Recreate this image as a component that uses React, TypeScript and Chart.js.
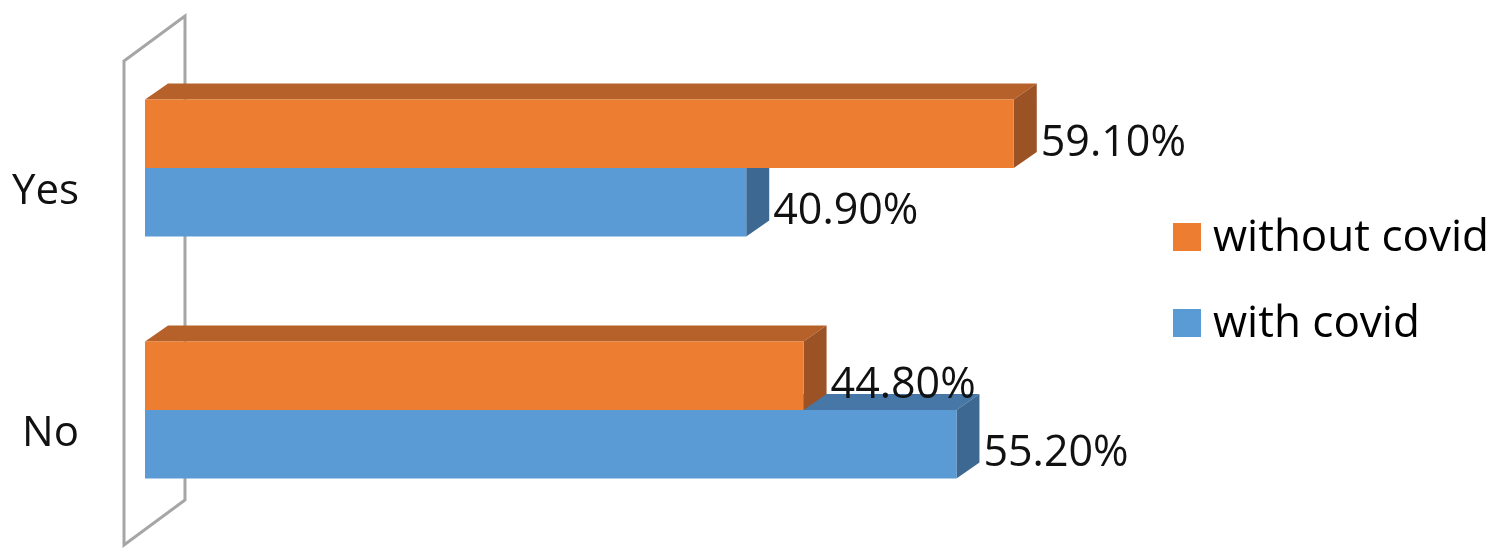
import React, { useEffect, useRef } from "react";
import { Chart, registerables } from "chart.js";

Chart.register(...registerables);

const categories = ["Yes", "No"];
const seriesNames = ["without covid", "with covid"];
const withoutCovid = [59.1, 44.8];
const withCovid = [40.9, 55.2];

const FONT = "'Open Sans', 'Noto Sans', sans-serif";
const DX = 23; // depth offset of the 3d bars
const DY = 16;

const faceColors = [
  { front: "#ED7D31", top: "#B6602A", side: "#9B5224" },
  { front: "#5B9BD5", top: "#4677A6", side: "#3D6892" },
];

const depthPlugin = {
  id: "depth3d",
  beforeDatasetsDraw(chart: any) {
    const { ctx, chartArea } = chart;
    const { left, top, bottom } = chartArea;

    // back wall
    ctx.save();
    ctx.strokeStyle = "#A6A6A6";
    ctx.lineWidth = 3;
    ctx.lineJoin = "miter";
    const fx = left - 21;
    const bx = left + 40;
    ctx.beginPath();
    ctx.moveTo(fx, top + 14);
    ctx.lineTo(bx, top - 31);
    ctx.lineTo(bx, bottom - 31);
    ctx.lineTo(fx, bottom + 14);
    ctx.closePath();
    ctx.stroke();

    // top and side faces, lower bars first
    for (let d = chart.data.datasets.length - 1; d >= 0; d--) {
      const meta = chart.getDatasetMeta(d);
      const c = faceColors[d];
      meta.data.forEach((bar: any) => {
        const { x, y, base, height } = bar.getProps(["x", "y", "base", "height"], true);
        const t = y - height / 2;
        const b = y + height / 2;
        ctx.fillStyle = c.top;
        ctx.beginPath();
        ctx.moveTo(base, t);
        ctx.lineTo(x, t);
        ctx.lineTo(x + DX, t - DY);
        ctx.lineTo(base + DX, t - DY);
        ctx.closePath();
        ctx.fill();
        ctx.fillStyle = c.side;
        ctx.beginPath();
        ctx.moveTo(x, t);
        ctx.lineTo(x + DX, t - DY);
        ctx.lineTo(x + DX, b - DY);
        ctx.lineTo(x, b);
        ctx.closePath();
        ctx.fill();
      });
    }
    ctx.restore();
  },
  afterDatasetsDraw(chart: any) {
    const { ctx, chartArea } = chart;
    ctx.save();
    ctx.fillStyle = "#111111";
    ctx.textBaseline = "middle";

    // value labels
    ctx.font = `43px ${FONT}`;
    ctx.textAlign = "left";
    chart.data.datasets.forEach((ds: any, d: number) => {
      const meta = chart.getDatasetMeta(d);
      meta.data.forEach((bar: any, i: number) => {
        const { x, y } = bar.getProps(["x", "y"], true);
        ctx.fillText(ds.data[i].toFixed(2) + "%", x + DX + 4, y + 10);
      });
    });

    // category labels
    const yScale = chart.scales.y;
    ctx.font = `42px ${FONT}`;
    ctx.textAlign = "right";
    categories.forEach((cat, i) => {
      ctx.fillText(cat, chartArea.left - 66, yScale.getPixelForValue(i) + 24);
    });

    // legend
    ctx.font = `44px ${FONT}`;
    ctx.textAlign = "left";
    ctx.textBaseline = "alphabetic";
    seriesNames.forEach((name, i) => {
      const ly = 223 + i * 86;
      ctx.fillStyle = faceColors[i].front;
      ctx.fillRect(1173, ly, 28, 28);
      ctx.fillStyle = "#000000";
      ctx.fillText(name, 1213, ly + 28);
    });
    ctx.restore();
  },
};

const App: React.FC = () => {
  const canvasRef = useRef<HTMLCanvasElement>(null);

  useEffect(() => {
    document.body.style.margin = "0";
    const ctx = canvasRef.current?.getContext("2d");
    if (!ctx) return;

    const chart = new Chart(ctx, {
      type: "bar",
      data: {
        labels: categories,
        datasets: [
          {
            label: seriesNames[0],
            data: withoutCovid,
            backgroundColor: faceColors[0].front,
            borderWidth: 0,
          },
          {
            label: seriesNames[1],
            data: withCovid,
            backgroundColor: faceColors[1].front,
            borderWidth: 0,
          },
        ],
      },
      options: {
        indexAxis: "y",
        responsive: false,
        animation: false,
        events: [],
        devicePixelRatio: 1,
        layout: { padding: { left: 145, right: 326, top: 47, bottom: 24 } },
        datasets: { bar: { barPercentage: 1, categoryPercentage: 0.566 } },
        scales: {
          x: { display: false, min: 0, max: 70 },
          y: { display: false },
        },
        plugins: {
          legend: { display: false },
          tooltip: { enabled: false },
        },
      },
      plugins: [depthPlugin],
    });

    return () => {
      chart.destroy();
    };
  }, []);

  return <canvas ref={canvasRef} width={1500} height={555} />;
};

export default App;
